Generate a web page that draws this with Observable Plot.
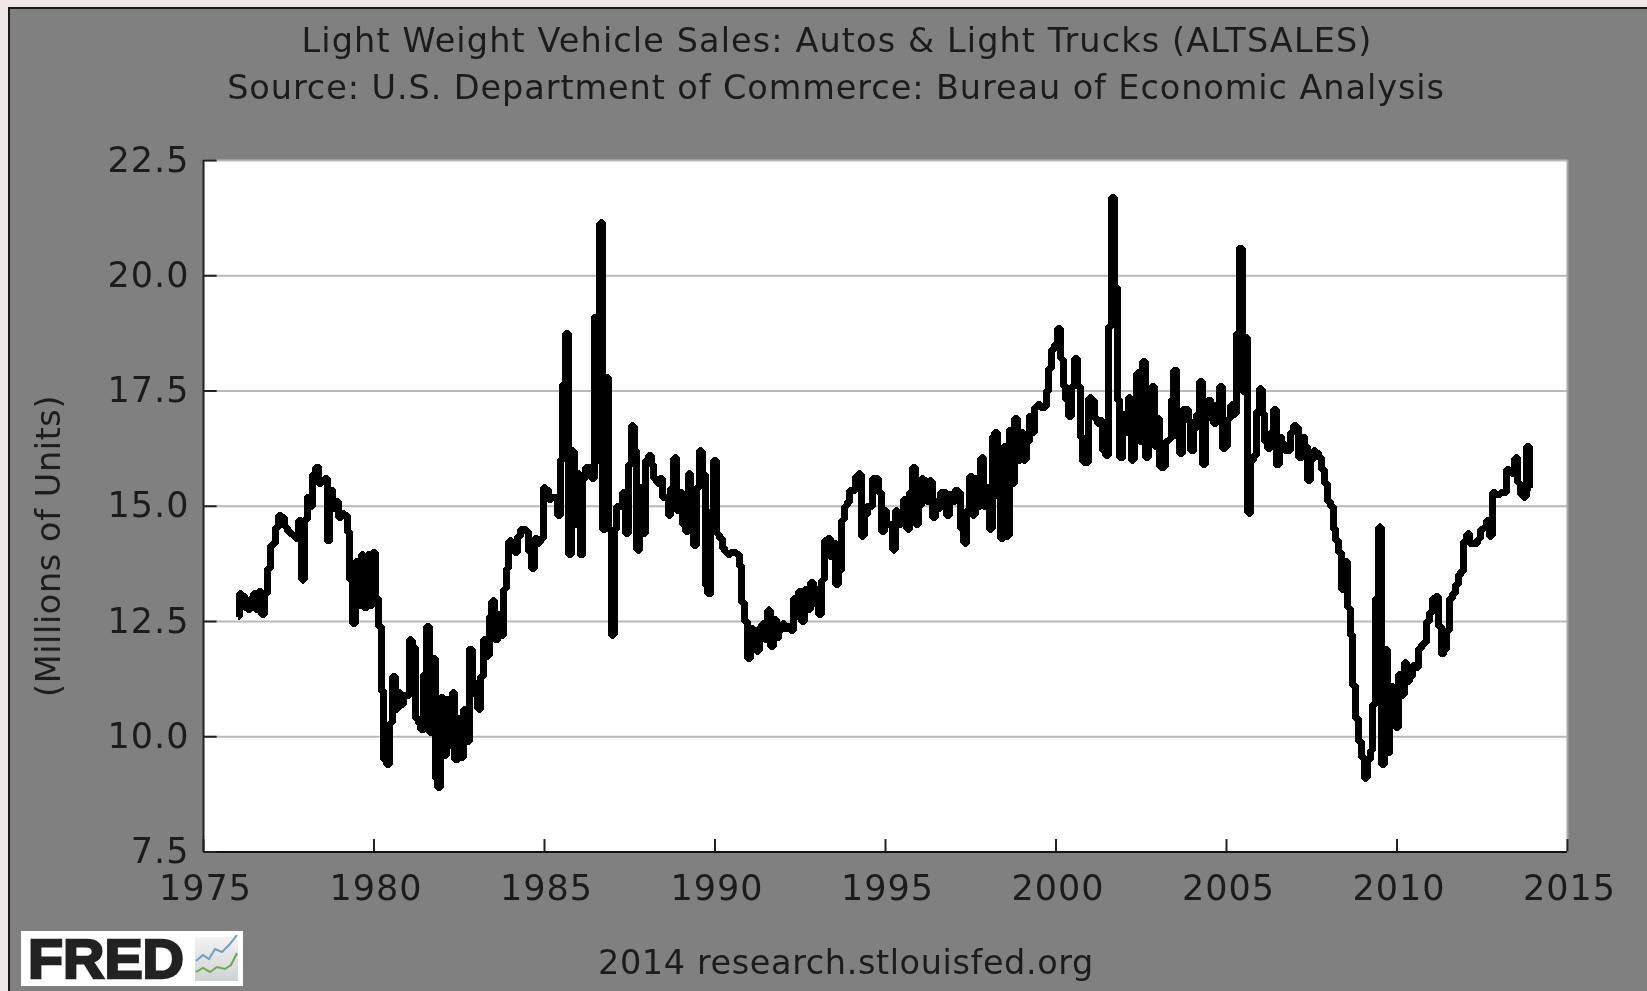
<!DOCTYPE html>
<html><head><meta charset="utf-8">
<script src="https://cdn.jsdelivr.net/npm/d3@7"></script>
<script src="https://cdn.jsdelivr.net/npm/@observablehq/plot@0.6"></script>
<style>
html,body{margin:0;padding:0;width:1647px;height:991px;overflow:hidden;background:#efe6e8;}
#panel{position:absolute;left:8px;top:7px;width:1639px;height:984px;background:#808080;border-left:2px solid #1a1a1a;border-top:2px solid #1a1a1a;box-sizing:border-box;}
#chart{position:absolute;left:0;top:0;width:1647px;height:991px;filter:blur(0.5px);}
.t{position:absolute;font-family:"DejaVu Sans",sans-serif;color:#1c1c1c;white-space:nowrap;font-size:33.5px;line-height:40px;transform:translate(-50%,-50%);filter:blur(0.4px);}
#logo{position:absolute;left:21px;top:931px;width:222px;height:55px;background:#fff;}
#logo svg{position:absolute;left:0;top:-10px;}
</style></head>
<body>
<div id="panel"></div>
<div id="chart"></div>
<div class="t" style="left:837px;top:41px;letter-spacing:1.1px">Light Weight Vehicle Sales: Autos &amp; Light Trucks (ALTSALES)</div>
<div class="t" style="left:836px;top:88px;letter-spacing:0.92px">Source: U.S. Department of Commerce: Bureau of Economic Analysis</div>
<div class="t" style="left:49px;top:546px;transform:translate(-50%,-50%) rotate(-90deg);letter-spacing:0.6px">(Millions of Units)</div>
<div class="t" style="left:846px;top:963px;letter-spacing:0.6px">2014 research.stlouisfed.org</div>
<div id="logo">
<svg width="222" height="70" viewBox="0 -10 222 70">
<defs><linearGradient id="g" x1="0" x2="0" y1="0" y2="1"><stop offset="0" stop-color="#f2f2f2"/><stop offset="1" stop-color="#cfd2d4"/></linearGradient></defs>
<text x="7" y="47" font-family="'Liberation Sans',sans-serif" font-weight="700" font-size="56" fill="#222" stroke="#222" stroke-width="2.5" textLength="156" lengthAdjust="spacingAndGlyphs">FRED</text>
<rect x="174" y="6" width="43" height="44" fill="url(#g)"/>
<polyline points="175,30 182,24 188,28 194,18 201,21 208,14 216,4" fill="none" stroke="#6f9fc4" stroke-width="2"/>
<polyline points="175,41 182,37 189,41 196,36 204,38 210,34 216,22" fill="none" stroke="#6fa84f" stroke-width="2"/>
</svg>
</div>
<script>
const yearsStart = 1976;
const sales1970s = [
 12.6,13.1,13.05,12.8,12.75,13.0,13.1,12.75,13.15,12.65,13.1,13.65,
 14.15,14.2,14.55,14.8,14.75,14.55,14.45,14.4,14.35,14.3,14.7,13.4,
 14.7,15.2,15.0,15.7,15.85,15.5,15.55,15.6,14.25,15.35,14.95,15.1,
 14.75,14.85,14.8,14.45,13.4,12.45,13.8,12.85,13.95,12.8,13.95,12.85];
const sales1980s = [
 14.0,13.0,12.4,11.0,9.5,9.4,10.3,11.3,10.6,10.95,10.7,10.9,
 10.9,12.1,11.95,10.4,10.3,10.15,11.35,12.4,10.1,11.7,9.1,8.9,
 10.85,9.6,10.8,9.8,10.95,9.5,10.4,9.55,10.6,9.9,11.9,11.2,
 10.9,10.6,11.3,12.1,11.75,12.6,12.95,12.1,12.65,12.2,13.2,13.65,
 14.25,14.1,14.0,14.35,14.5,14.5,14.45,14.0,13.65,14.3,14.2,14.3,
 15.4,15.35,15.15,15.2,15.2,14.8,16.0,17.65,18.75,13.95,16.2,14.6,
 15.7,13.95,15.6,15.85,15.85,15.6,19.1,16.0,21.15,14.5,17.8,14.5,
 12.2,14.5,15.0,15.0,15.3,14.4,15.9,16.75,16.2,14.05,15.4,14.4,
 16.0,16.1,15.9,15.6,15.5,15.6,15.2,15.2,14.8,15.4,16.05,14.9,
 15.3,14.6,14.45,15.7,15.1,14.15,15.4,16.2,15.7,13.3,13.1,14.9];
const sales1990s = [
 16.0,14.4,14.3,14.1,14.0,13.95,14.0,14.0,13.95,13.7,12.9,12.5,
 11.7,12.35,12.0,11.85,12.35,12.45,12.1,12.75,11.95,12.55,12.15,12.3,
 12.45,12.35,12.4,12.3,13.0,12.6,13.15,12.5,13.2,12.75,13.35,12.9,
 13.2,12.65,13.4,14.25,14.3,13.9,14.2,13.3,13.6,14.7,15.0,15.1,
 15.35,15.35,15.65,15.7,14.35,14.8,15.0,15.0,15.6,15.6,15.3,14.45,
 14.9,14.6,14.6,14.05,14.9,14.6,14.8,15.15,14.5,15.3,15.85,14.6,
 15.0,15.6,15.55,15.1,15.55,14.75,15.1,14.95,15.3,15.3,14.8,15.25,
 15.1,15.35,15.3,14.5,14.2,14.9,15.65,14.8,15.6,15.0,16.05,15.0,
 15.4,14.5,16.5,16.6,15.2,14.3,16.3,14.35,16.65,15.5,16.9,16.0,
 16.6,16.0,16.4,16.95,16.6,17.15,17.2,17.15,17.15,17.5,18.0,18.4];
const sales2000s = [
 18.5,18.85,18.2,17.6,17.3,16.95,17.6,18.2,17.6,16.5,15.95,15.95,
 17.35,17.3,16.9,16.8,16.85,16.2,16.1,18.9,21.7,19.75,17.3,16.05,
 17.0,16.6,17.35,16.0,17.3,17.9,16.4,18.15,16.05,17.0,17.6,16.3,
 16.9,15.85,15.85,16.4,16.45,17.3,17.95,16.5,16.15,17.1,17.1,16.85,
 16.2,16.7,17.0,17.7,15.9,16.9,17.3,17.2,16.8,17.2,17.6,16.25,
 16.3,16.9,17.2,17.0,18.75,20.6,17.5,18.65,14.85,16.0,16.1,17.05,
 17.55,17.0,16.4,16.25,16.6,17.1,15.9,16.5,16.35,16.2,16.2,16.6,
 16.75,16.7,16.05,16.5,16.3,15.55,16.0,16.2,16.15,16.05,15.8,15.5,
 15.1,15.0,14.5,14.25,14.0,13.2,13.8,12.8,12.2,11.1,10.4,9.9,
 9.55,9.1,9.5,9.7,10.7,13.0,14.55,9.4,11.9,9.65,11.1,10.6];
const sales2010s = [
 10.2,11.35,10.9,11.6,11.2,11.3,11.55,11.5,11.9,12.0,12.05,12.5,
 12.7,13.0,13.05,12.4,11.8,11.9,12.3,13.0,13.1,13.3,13.5,13.6,
 14.25,14.4,14.2,14.2,14.2,14.3,14.5,14.55,14.7,14.35,15.3,15.25,
 15.25,15.3,15.3,15.8,15.75,15.7,16.05,15.5,15.25,15.2,16.3,15.4];
const yTicks = [7.5,10,12.5,15,17.5,20,22.5];
const xTicks = [1975,1980,1985,1990,1995,2000,2005,2010,2015];

const sales = [...sales1970s,...sales1980s,...sales1990s,...sales2000s,...sales2010s];
const rows = sales.map((v,i)=>({t: yearsStart + i/12, v}));

const chart = Plot.plot({
  width:1647, height:991,
  marginLeft:203, marginRight:80, marginTop:160, marginBottom:139.5,
  style:{background:"transparent",fontFamily:"'DejaVu Sans',sans-serif",fontSize:"35px",letterSpacing:"1px",color:"#1c1c1c",overflow:"visible"},
  x:{domain:[1975,2015],label:null},
  y:{domain:[7.5,22.5],label:null},
  marks:[
    Plot.frame({fill:"#fff",stroke:"none"}),
    Plot.ruleY(yTicks,{stroke:"#b9b9b9",strokeWidth:2}),
    Plot.ruleX([2015],{stroke:"#a8a8a8",strokeWidth:2}),
    Plot.ruleX([1975],{stroke:"#222",strokeWidth:2}),
    Plot.ruleY([7.5],{stroke:"#111",strokeWidth:2}),
    Plot.ruleY(yTicks,{x1:1975,x2:1975.4,stroke:"#222",strokeWidth:2}),
    Plot.ruleX(xTicks,{y1:7.5,y2:7.77,stroke:"#222",strokeWidth:2}),
    Plot.lineY(rows,{x:"t",y:"v",stroke:"#000",strokeWidth:7,strokeLinejoin:"miter",strokeLinecap:"butt",curve:"step",shapeRendering:"crispEdges"}),
    Plot.axisY(yTicks,{anchor:"left",tickSize:0,tickPadding:14,tickFormat:d3.format(".1f"),label:null,fill:"#1c1c1c"}),
    Plot.axisX(xTicks,{anchor:"bottom",tickSize:0,tickPadding:23,dx:2,tickFormat:d=>String(d),label:null,fill:"#1c1c1c"})
  ]
});
document.getElementById("chart").appendChild(chart);
</script>
</body></html>
